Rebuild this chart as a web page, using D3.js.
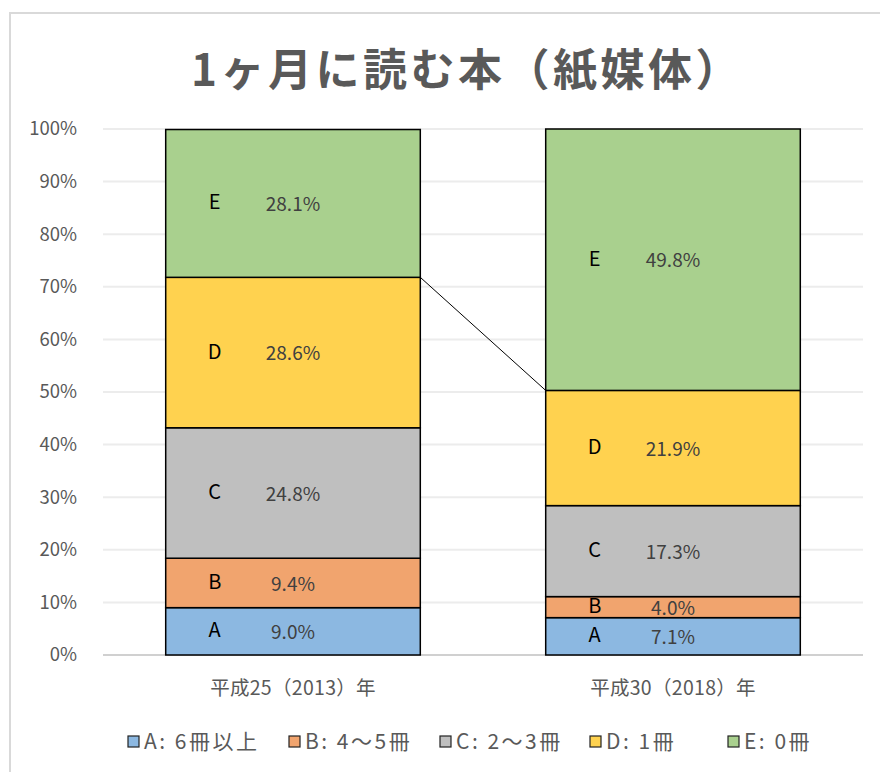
<!DOCTYPE html>
<html>
<head>
<meta charset="utf-8">
<script src="https://cdn.jsdelivr.net/npm/d3@7"></script>
<style>
  body { margin: 0; background: #fff; }
  svg { display: block; }
  text { font-family: "Noto Sans CJK JP", "Noto Sans", sans-serif; }
</style>
</head>
<body>
<div id="chart"></div>
<script>
const years = ['平成25（2013）年', '平成30（2018）年'];
const keys = ['A', 'B', 'C', 'D', 'E'];
const legendLabels = ['A: 6冊以上', 'B: 4～5冊', 'C: 2～3冊', 'D: 1冊', 'E: 0冊'];
const values2013 = [9.0, 9.4, 24.8, 28.6, 28.1];
const values2018 = [7.1, 4.0, 17.3, 21.9, 49.8];
const yTicks = [0, 10, 20, 30, 40, 50, 60, 70, 80, 90, 100];
const colors = ['#8cb8e1', '#f1a46e', '#bfbfbf', '#ffd24f', '#a9d08e'];

const width = 880;
const height = 772;
const margin = {top: 129, right: 17, bottom: 117, left: 103};

const svg = d3.select('#chart').append('svg')
    .attr('width', width)
    .attr('height', height);

// chart frame
svg.append('rect')
    .attr('x', 10).attr('y', 13)
    .attr('width', width + 10).attr('height', height + 10)
    .attr('fill', 'none')
    .attr('stroke', '#d9d9d9')
    .attr('stroke-width', 2);

svg.append('text')
    .attr('x', 467)
    .attr('y', 86)
    .attr('text-anchor', 'middle')
    .attr('font-size', 44)
    .attr('font-weight', 'bold')
    .attr('fill', '#595959')
    .attr('letter-spacing', 3.5)
    .text('1ヶ月に読む本（紙媒体）');

const x = d3.scaleBand()
    .domain(years)
    .range([margin.left, width - margin.right])
    .paddingInner(0.33)
    .paddingOuter(0.165);

const y = d3.scaleLinear()
    .domain([0, 100])
    .range([height - margin.bottom, margin.top]);

// gridlines
svg.append('g')
    .selectAll('line')
    .data(yTicks)
    .join('line')
    .attr('x1', margin.left)
    .attr('x2', width - margin.right)
    .attr('y1', d => y(d))
    .attr('y2', d => y(d))
    .attr('stroke', d => d === 0 ? '#d0d0d0' : '#ececec')
    .attr('stroke-width', 2);

const yAxis = svg.append('g')
    .attr('transform', `translate(${margin.left - 23}, 0)`)
    .call(d3.axisLeft(y).tickValues(yTicks).tickSize(0).tickFormat(d => d + '%'));
yAxis.select('.domain').remove();
yAxis.selectAll('text')
    .attr('font-family', '"Open Sans", "Noto Sans", sans-serif')
    .attr('font-size', 18.5)
    .attr('fill', '#595959');

const data = years.map((yr, i) => {
    const row = {year: yr};
    const vals = i === 0 ? values2013 : values2018;
    keys.forEach((k, j) => row[k] = vals[j]);
    return row;
});

const stacked = d3.stack().keys(keys)(data);

const layers = svg.append('g')
    .selectAll('g')
    .data(stacked)
    .join('g')
    .attr('fill', (d, i) => colors[i]);

layers.selectAll('rect')
    .data(d => d)
    .join('rect')
    .attr('x', d => x(d.data.year))
    .attr('width', x.bandwidth())
    .attr('y', d => y(Math.min(d[1], 100)))
    .attr('height', d => y(d[0]) - y(Math.min(d[1], 100)))
    .attr('stroke', '#000')
    .attr('stroke-width', 1.5);

// series line between D tops
const dLayer = stacked[3];
svg.append('line')
    .attr('x1', x(years[0]) + x.bandwidth())
    .attr('y1', y(dLayer[0][1]))
    .attr('x2', x(years[1]))
    .attr('y2', y(dLayer[1][1]))
    .attr('stroke', '#000')
    .attr('stroke-width', 1);

// segment labels
stacked.forEach(layer => {
    layer.forEach(d => {
        const cy = (y(d[0]) + y(Math.min(d[1], 100))) / 2;
        svg.append('text')
            .attr('x', x(d.data.year) + 49)
            .attr('y', cy)
            .attr('dy', '0.3em')
            .attr('text-anchor', 'middle')
            .attr('font-family', '"Open Sans", "Noto Sans", sans-serif')
            .attr('font-size', 20)
            .attr('fill', '#000')
            .text(layer.key);
        svg.append('text')
            .attr('x', x(d.data.year) + x.bandwidth() / 2)
            .attr('y', cy)
            .attr('dy', '0.4em')
            .attr('text-anchor', 'middle')
            .attr('font-family', '"Open Sans", "Noto Sans", sans-serif')
            .attr('font-size', 19)
            .attr('fill', '#404040')
            .text(d.data[layer.key].toFixed(1) + '%');
    });
});

// x labels
svg.append('g')
    .selectAll('text')
    .data(years)
    .join('text')
    .attr('x', d => x(d) + x.bandwidth() / 2)
    .attr('y', height - margin.bottom + 40)
    .attr('text-anchor', 'middle')
    .attr('font-size', 19.5)
    .attr('letter-spacing', 0.3)
    .attr('fill', '#595959')
    .text(d => d);

// legend
const legendX = [128, 289, 440, 590, 728];
const legend = svg.append('g')
    .selectAll('g')
    .data(legendLabels)
    .join('g')
    .attr('transform', (d, i) => `translate(${legendX[i]}, 742)`);

legend.append('rect')
    .attr('x', 0).attr('y', -6)
    .attr('width', 11).attr('height', 11)
    .attr('fill', (d, i) => colors[i])
    .attr('stroke', '#222')
    .attr('stroke-width', 1.2);

legend.append('text')
    .attr('x', 16)
    .attr('y', 0)
    .attr('dy', '0.35em')
    .attr('font-size', 21)
    .attr('letter-spacing', 2.5)
    .attr('fill', '#595959')
    .text(d => d);
</script>
</body>
</html>
